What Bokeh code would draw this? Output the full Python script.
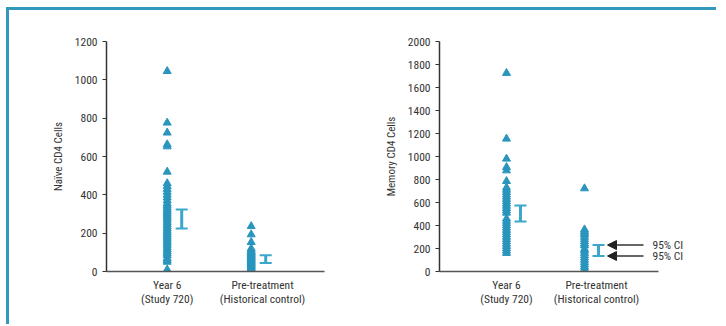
from bokeh.plotting import figure
from bokeh.models import (Range1d, FixedTicker, ColumnDataSource, Whisker, TeeHead,
                          Arrow, NormalHead, Label, Row)
from bokeh.embed import file_html
from bokeh.resources import INLINE

# ---------------- data ----------------
categories = ["Year 6\n(Study 720)", "Pre-treatment\n(Historical control)"]

naive_year6 = [1045, 776, 724, 663, 652, 520, 460, 445, 430, 415, 400, 385, 370, 355,
               345, 335, 325, 315, 305, 295, 285, 275, 265, 255, 245, 235, 225, 215,
               205, 195, 185, 175, 165, 155, 145, 135, 125, 115, 105, 95, 85, 70, 60,
               50, 10]
naive_pre = [236, 193, 153, 120, 112, 106, 100, 95, 90, 85, 80, 75, 70, 65, 60, 55,
             50, 45, 40, 35, 30, 25, 20, 15, 10, 5, 2, 0]
naive_ci_low = [224, 45]
naive_ci_high = [323, 85]

memory_year6 = [1725, 1154, 980, 907, 878, 785, 730, 710, 690, 670, 650, 630, 610,
                590, 570, 550, 530, 510, 460, 440, 420, 400, 380, 360, 340, 320, 300,
                280, 260, 240, 220, 200, 180, 160]
memory_pre = [722, 365, 350, 335, 320, 300, 280, 260, 240, 225, 195, 180, 160, 140,
              120, 100, 80, 60, 40, 20, 0]
memory_ci_low = [435, 135]
memory_ci_high = [574, 230]

naive_ticks = [0, 200, 400, 600, 800, 1000, 1200]
memory_ticks = [0, 200, 400, 600, 800, 1000, 1200, 1400, 1600, 1800, 2000]
ci_label = "95% CI"

# ---------------- style ----------------
FONT = "'Roboto Condensed', 'DejaVu Sans Condensed', Roboto, sans-serif"
FS = "11.5px"
MARK = "#2A95BD"
CI_COL = "#3BA7CB"
FRAME = "#3399BB"
TXT = "#333333"


def make_panel(ylabel, year6, pre, lo, hi, ticks, ymax, xr, axis_end, width, mbl, mbr,
               pre_off, ci_off):
    p = figure(width=width, height=314, output_backend="svg", toolbar_location=None,
               x_range=Range1d(*xr), y_range=Range1d(0, ymax),
               min_border_left=mbl, min_border_right=mbr, min_border_top=31,
               min_border_bottom=53)
    p.outline_line_color = None
    p.grid.visible = False
    p.background_fill_color = "white"
    p.border_fill_color = "white"

    p.scatter([1.0] * len(year6), year6, marker="triangle", size=8, color=MARK)
    p.scatter([2.0 + pre_off] * len(pre), pre, marker="triangle", size=8, color=MARK)

    src = ColumnDataSource(dict(x=[1.0 + ci_off, 2.0 + pre_off + ci_off], lo=lo, hi=hi))
    p.add_layout(Whisker(base="x", upper="hi", lower="lo", source=src,
                         line_color=CI_COL, line_width=3,
                         upper_head=TeeHead(size=12, line_color=CI_COL, line_width=2),
                         lower_head=TeeHead(size=12, line_color=CI_COL, line_width=2)))

    ya = p.yaxis[0]
    ya.ticker = FixedTicker(ticks=ticks)
    ya.axis_label = ylabel
    ya.axis_label_text_font = FONT
    ya.axis_label_text_font_style = "normal"
    ya.axis_label_text_font_size = "11px"
    ya.axis_label_text_color = TXT
    ya.axis_label_standoff = 7
    ya.major_label_text_font = FONT
    ya.major_label_text_font_size = FS
    ya.major_label_text_color = TXT
    ya.major_tick_in = 0
    ya.major_tick_out = 4
    ya.minor_tick_line_color = None
    ya.axis_line_color = "#333333"
    ya.axis_line_width = 1.5
    ya.major_tick_line_color = "#333333"
    ya.major_tick_line_width = 1.2
    ya.major_label_standoff = 5

    xa = p.xaxis[0]
    xa.ticker = FixedTicker(ticks=[1, 2])
    xa.major_label_overrides = {1: categories[0], 2: categories[1]}
    xa.major_label_text_font = FONT
    xa.major_label_text_font_size = FS
    xa.major_label_text_color = TXT
    xa.major_label_text_line_height = 1.05
    xa.major_tick_line_color = None
    xa.minor_tick_line_color = None
    xa.axis_line_color = "#555555"
    xa.axis_line_width = 1.5
    xa.major_label_standoff = 0
    xa.bounds = (xr[0], axis_end)
    return p


# left panel: y axis at 106px, tick 1 at 166.7px, tick 2 at 262px (95.3 px/unit)
u1 = 95.3
p1 = make_panel("Naïve CD4 Cells", naive_year6, naive_pre, naive_ci_low, naive_ci_high,
                naive_ticks, 1200, (1 - 60.7 / u1, 2 + 62 / u1), 2 + 62 / u1, 354, 97, 39,
                -11.3 / u1, 14.5 / u1)

# right panel: y axis at 439px, tick 1 at 506px, tick 2 at 596px (90 px/unit)
u2 = 90.0
p2 = make_panel("Memory CD4 Cells", memory_year6, memory_pre, memory_ci_low,
                memory_ci_high, memory_ticks, 2000, (1 - 67 / u2, 2 + 120 / u2),
                2 + 62 / u2, 353, 76, 0, -12 / u2, 14 / u2)

for yv in (memory_ci_high[1], memory_ci_low[1]):
    p2.add_layout(Arrow(end=NormalHead(size=9, fill_color="#222222", line_color="#222222"),
                        x_start=2 + 47 / u2, y_start=yv, x_end=2 + 11 / u2, y_end=yv,
                        line_color="#333333", line_width=1.5))
    p2.add_layout(Label(x=2 + 56 / u2, y=yv, text=ci_label, text_baseline="middle",
                        text_font=FONT, text_font_size=FS, text_color=TXT))

layout = Row(children=[p1, p2], spacing=0,
             styles={"border-top": f"3px solid {FRAME}",
                     "border-left": f"3px solid {FRAME}",
                     "margin-left": "6px", "margin-top": "7px"})

open("out.html", "w").write(file_html(layout, INLINE))
